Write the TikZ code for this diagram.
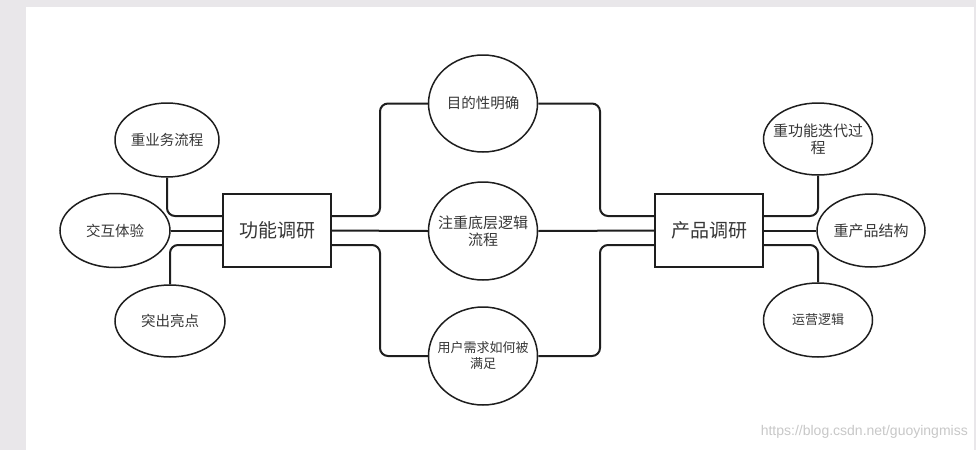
\documentclass[tikz,border=0pt]{standalone}
\usepackage{fontspec}
\setmainfont{Noto Sans CJK SC}
\newfontfamily\wmfont{Liberation Sans}
\usetikzlibrary{shapes.geometric}
\definecolor{bgrey}{RGB}{233,231,234}
\definecolor{ink}{RGB}{30,30,30}
\definecolor{txt}{RGB}{55,55,55}
\definecolor{wm}{RGB}{200,200,200}
\tikzset{
  el/.style={ellipse, draw=ink, line width=1.5pt, inner xsep=-22pt, inner ysep=0pt, text=txt, align=center},
  bx/.style={rectangle, draw=ink, line width=1.5pt, inner sep=0pt, minimum width=108pt, minimum height=73pt, text=txt, font=\fontsize{19}{22}\selectfont},
  conn/.style={draw=ink, line width=2pt, rounded corners=8pt},
}
\begin{document}
\begin{tikzpicture}[x=1pt,y=-1pt]
\fill[bgrey] (0,0) rectangle (976,450);
\fill[white] (26,7) rectangle (974,450);
\useasboundingbox (0,0) rectangle (976,450);

% main boxes
\node[bx] (f) at (277,230.5) {功能调研};
\node[bx] (p) at (709,230.5) {产品调研};

% left ellipses
\node[el, minimum width=104pt, minimum height=74pt, font=\fontsize{14.5}{17}\selectfont] (l1) at (167,140) {重业务流程};
\node[el, minimum width=110pt, minimum height=74pt, font=\fontsize{14.5}{17}\selectfont] (l2) at (115,230.5) {交互体验};
\node[el, minimum width=110pt, minimum height=72pt, font=\fontsize{14.5}{17}\selectfont] (l3) at (170,321) {突出亮点};

% middle ellipses
\node[el, minimum width=109pt, minimum height=97pt, font=\fontsize{14.5}{17}\selectfont] (m1) at (483,103.5) {目的性明确};
\node[el, minimum width=109pt, minimum height=98pt, font=\fontsize{15}{17}\selectfont] (m2) at (483,231) {注重底层逻辑\\流程};
\node[el, minimum width=109pt, minimum height=98pt, font=\fontsize{13}{16}\selectfont] (m3) at (483,356) {用户需求如何被\\满足};

% right ellipses
\node[el, minimum width=109pt, minimum height=72pt, font=\fontsize{15}{17}\selectfont] (r1) at (818,139) {重功能迭代过\\程};
\node[el, minimum width=108pt, minimum height=73pt, font=\fontsize{15}{17}\selectfont] (r2) at (871,230.5) {重产品结构};
\node[el, minimum width=109pt, minimum height=74pt, font=\fontsize{13}{16}\selectfont] (r3) at (818,320) {运营逻辑};

% corner coordinates
\coordinate (c1) at (380,103.5);
\coordinate (c2) at (600,216);
\coordinate (c3) at (380,356);
\coordinate (c4) at (600,245);

% left connectors
\draw[conn] ([yshift=14.5pt]f.west) -| (l1.south);
\draw[conn] (l2.east) -- (f.west);
\draw[conn] ([yshift=-14.5pt]f.west) -| (l3.north);

% middle connectors
\draw[conn] ([yshift=14.5pt]f.east) -| (c1) -- (m1.west);
\draw[conn] (f.east) -- (m2.west);
\draw[conn] ([yshift=-14.5pt]f.east) -| (c3) -- (m3.west);
\draw[conn] (m1.east) -| (c2) -- ([yshift=14.5pt]p.west);
\draw[conn] (m2.east) -- (p.west);
\draw[conn] (m3.east) -| (c4) -- ([yshift=-14.5pt]p.west);

% right connectors
\draw[conn] ([yshift=14.5pt]p.east) -| (r1.south);
\draw[conn] (p.east) -- (r2.west);
\draw[conn] ([yshift=-14.5pt]p.east) -| (r3.north);

% watermark
\node[anchor=east, text=wm, font=\wmfont\fontsize{14}{16}\selectfont, inner sep=0pt] (w) at (968,432) {https://blog.csdn.net/guoyingmiss};
\end{tikzpicture}
\end{document}
